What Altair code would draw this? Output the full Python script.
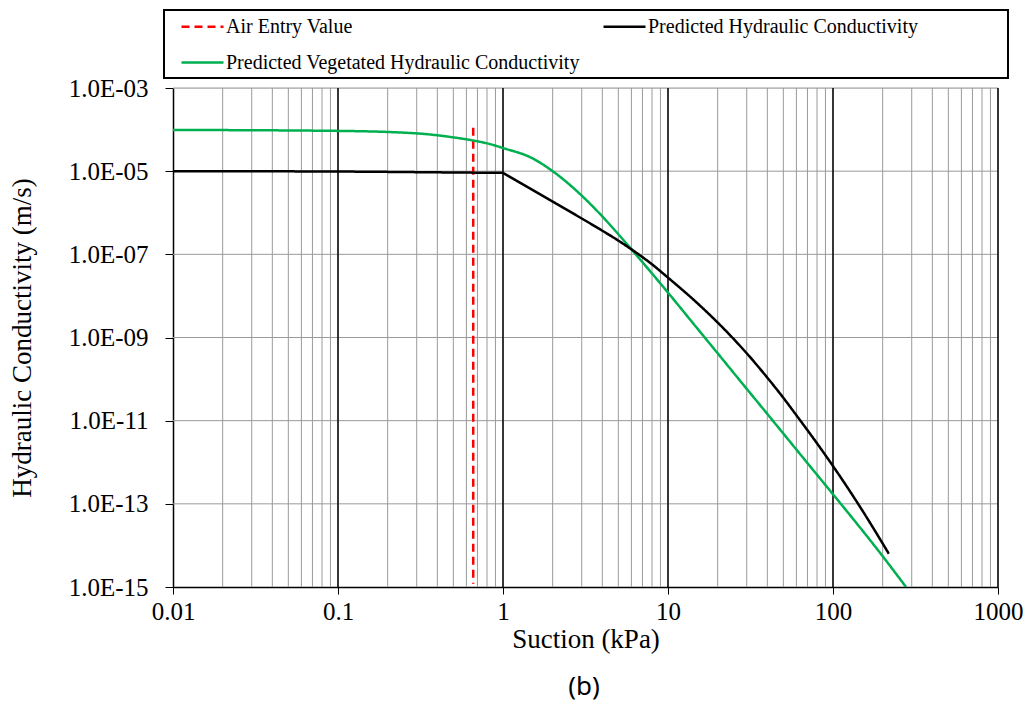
import altair as alt
import pandas as pd

# Suction values (kPa) and hydraulic conductivity (m/s) for each curve
suction_bare = [0.01, 0.1, 0.5, 1, 1.5, 2, 3, 4, 5, 6, 8, 10, 15, 20, 30,
                40, 50, 60, 80, 100, 150, 218]
k_bare = [1.00e-5, 9.8e-6, 9.3e-6, 9.1e-6, 3.59e-6, 1.85e-6, 7.28e-7, 3.70e-7,
          2.14e-7, 1.32e-7, 5.75e-8, 2.75e-8, 6.8e-9, 2.29e-9, 4.17e-10,
          1.08e-10, 3.55e-11, 1.35e-11, 2.85e-12, 8.1e-13, 7.1e-14, 6.3e-15]
# the bare-soil curve has a sharp break at the air entry of the model (1 kPa)
bare_break = 1

suction_veg = [0.01, 0.1, 0.3, 0.5, 0.67, 0.83, 1, 1.5, 2, 3, 4, 5, 6, 8, 10,
               15, 20, 30, 40, 50, 80, 100, 200, 277]
k_veg = [9.8e-5, 9.3e-5, 8.1e-5, 6.5e-5, 5.4e-5, 4.5e-5, 3.6e-5, 2.06e-5,
         1.0e-5, 2.58e-6, 8.15e-7, 3.05e-7, 1.32e-7, 3.47e-8, 1.2e-8, 1.68e-9,
         4.17e-10, 5.82e-11, 1.45e-11, 4.9e-12, 5.0e-13, 1.7e-13, 5.5e-15,
         1.0e-15]

air_entry_suction = [0.66, 0.66]
air_entry_k = [1.1e-4, 1.2e-15]

series_names = ["Air Entry Value", "Predicted Vegetated Hydraulic Conductivity",
                "Predicted Hydraulic Conductivity"]
series_colors = ["#FF0000", "#00B050", "#000000"]
series_dash = [[8, 5], [1, 0], [1, 0]]

x_ticks = [0.01, 0.1, 1, 10, 100, 1000]
y_ticks = [1e-15, 1e-13, 1e-11, 1e-9, 1e-7, 1e-5, 1e-3]
x_minor = [d * m for d in [0.01, 0.1, 1, 10, 100] for m in range(2, 10)]

rows = []


def add_curve(name, xs, ks, part=0):
    for i, (s, k) in enumerate(zip(xs, ks)):
        rows.append({"series": name, "part": part, "suction": s, "k": k, "idx": i})


add_curve(series_names[0], air_entry_suction, air_entry_k)
add_curve(series_names[1], suction_veg, k_veg)
cut = suction_bare.index(bare_break)
add_curve(series_names[2], suction_bare[:cut + 1], k_bare[:cut + 1], part=0)
add_curve(series_names[2], suction_bare[cut:], k_bare[cut:], part=1)
curves = pd.DataFrame(rows)

SERIF = "Liberation Serif"
x_scale = alt.Scale(type="log", domain=[0.01, 1000])
y_scale = alt.Scale(type="log", domain=[1e-15, 1e-3])

x_axis = alt.Axis(values=x_ticks, format="~g", title="Suction (kPa)",
                  labelFont=SERIF, labelFontSize=25, labelColor="black",
                  titleFont=SERIF, titleFontSize=27, titleFontWeight="normal",
                  titleColor="black", tickColor="black", tickSize=7,
                  domainColor="black", domainWidth=1.5, grid=False,
                  labelPadding=5, titlePadding=2, labelFlush=False,
                  labelOverlap=False, labelBound=False)
y_axis = alt.Axis(values=y_ticks,
                  labelExpr="'1.0E-' + (round(-log(datum.value)/LN10) < 10 ? '0' : '') + round(-log(datum.value)/LN10)",
                  title="Hydraulic Conductivity  (m/s)",
                  labelFont=SERIF, labelFontSize=25, labelColor="black",
                  titleFont=SERIF, titleFontSize=27, titleFontWeight="normal",
                  titleColor="black", tickColor="black", tickSize=8,
                  domainColor="black", domainWidth=1.5, grid=False,
                  labelPadding=17, titlePadding=32, labelFlush=False,
                  labelOverlap=False, labelBound=False)

lines = alt.Chart(curves).mark_line(strokeWidth=2.5, clip=True,
                                     interpolate="monotone").encode(
    x=alt.X("suction:Q", scale=x_scale, axis=x_axis),
    y=alt.Y("k:Q", scale=y_scale, axis=y_axis),
    color=alt.Color("series:N",
                    scale=alt.Scale(domain=series_names, range=series_colors),
                    legend=alt.Legend(title=None, orient="none", legendX=7,
                                      legendY=-84, columns=2,
                                      columnPadding=18, rowPadding=3,
                                      symbolType="stroke", symbolSize=1764,
                                      symbolStrokeWidth=2.5, labelOffset=1,
                                      labelFont=SERIF, labelFontSize=20,
                                      labelColor="black", labelLimit=0)),
    strokeDash=alt.StrokeDash("series:N",
                              scale=alt.Scale(domain=series_names,
                                              range=series_dash),
                              legend=alt.Legend(title=None)),
    detail="part:N",
    order=alt.Order("idx:Q"),
)

minor_grid = alt.Chart(pd.DataFrame({"s": x_minor})).mark_rule(
    color="#9a9a9a", strokeWidth=1).encode(
    x=alt.X("s:Q", scale=x_scale, axis=x_axis))

h_grid = alt.Chart(pd.DataFrame({"k": y_ticks[1:]})).mark_rule(
    color="#9a9a9a", strokeWidth=1).encode(
    y=alt.Y("k:Q", scale=y_scale, axis=y_axis))

major_grid = alt.Chart(pd.DataFrame({"s": x_ticks[1:]})).mark_rule(
    color="#202020", strokeWidth=1.8).encode(
    x=alt.X("s:Q", scale=x_scale, axis=x_axis))

legend_frame = alt.Chart(pd.DataFrame({"a": [0]})).mark_rect(
    fillOpacity=0, stroke="black", strokeWidth=2).encode(
    x=alt.value(-9), x2=alt.value(835), y=alt.value(-78), y2=alt.value(-10))

panel_tag = alt.Chart(pd.DataFrame({"a": [0]})).mark_text(
    text="(b)", font="Noto Sans", fontSize=26, color="black",
    baseline="middle", align="center").encode(
    x=alt.value(411), y=alt.value(599))

chart = alt.layer(
    minor_grid, h_grid, major_grid, lines, legend_frame, panel_tag
).resolve_scale(x="shared", y="shared").properties(
    width=825, height=499,
    autosize=alt.AutoSizeParams(type="none"),
    padding={"left": 173, "top": 88, "right": 32, "bottom": 118},
).configure_view(stroke=None).configure(background="white")

chart.save("out.html", embed_options={"renderer": "svg", "actions": False})
